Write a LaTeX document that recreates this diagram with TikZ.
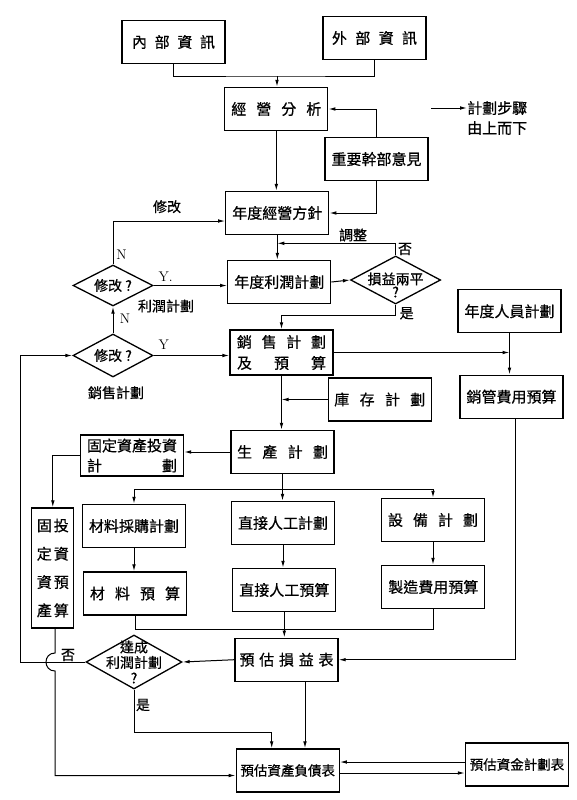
\documentclass[tikz,border=0pt]{standalone}
\usepackage{fontspec}
\newfontfamily\cjk[FakeBold=0.6]{Noto Sans CJK TC}
\usetikzlibrary{shapes.geometric,arrows.meta,calc}
\newcommand{\jus}[2][88pt]{\makebox[#1][s]{#2}}
\begin{document}
\begin{tikzpicture}[x=1pt,y=-1pt,
  box/.style={draw, line width=1.3pt, minimum width=103pt, minimum height=43pt, inner sep=2pt, font=\cjk\fontsize{15}{20}\selectfont, align=center},
  dia/.style={draw, line width=1.3pt, diamond, inner sep=0pt},
  conn/.style={line width=1pt, -{Latex[length=7pt,width=3.6pt]}},
  line/.style={line width=1pt},
  lbl/.style={font=\cjk\fontsize{14}{16}\selectfont, inner sep=1pt},
  lat/.style={font=\fontsize{14}{16}\selectfont, inner sep=1pt}]
\useasboundingbox[fill=white] (0,0) rectangle (577,800);

% ---------- nodes ----------
\node[box] (in) at (173.5,42) {\jus[83pt]{內\hfill{}部\hfill{}資\hfill{}訊}};
\node[box] (ex) at (374.5,38) {\jus[85pt]{外\hfill{}部\hfill{}資\hfill{}訊}};
\node[box] (an) at (276.3,109) {\jus[90pt]{經\hfill{}營\hfill{}分\hfill{}析}};
\node[box] (op) at (376.5,159) {重要幹部意見};
\node[box] (pol) at (277.3,213) {年度經營方針};
\node[box] (pp) at (279.3,282) {年度利潤計劃};
\node[dia, minimum width=90pt, minimum height=48pt,
  label={[lbl, align=center, yshift=-5pt, font=\cjk\fontsize{14}{13}\selectfont]center:{損益兩平\\?}}] (be) at (395.6,280) {};
\node[box] (hr) at (509.5,311.3) {年度人員計劃};
\node[box, minimum height=45pt, font=\cjk\fontsize{15}{21}\selectfont] (sales) at (281.5,352.5)
  {\jus[89pt]{銷\hfill{}售\hfill{}計\hfill{}劃}\\\jus[89pt]{及\hfill{}預\hfill{}算}};
\node[dia, minimum width=80pt, minimum height=41pt, label={[lbl]center:{修改 ?}}] (d1) at (113,285.5) {};
\node[dia, minimum width=80pt, minimum height=43pt, label={[lbl]center:{修改 ?}}] (d2) at (113,355.5) {};
\node[box] (inv) at (379.8,399.5) {\jus[91pt]{庫\hfill{}存\hfill{}計\hfill{}劃}};
\node[box] (sga) at (511.5,396.7) {銷管費用預算};
\node[box] (prod) at (282.5,452) {\jus[91pt]{生\hfill{}產\hfill{}計\hfill{}劃}};
\node[box, minimum height=41pt] (fa) at (132,455.5) {固定資產投資\\\jus[90pt]{計\hfill{}劃}};
\node[box, minimum width=42pt, minimum height=120pt, font=\cjk\fontsize{15}{28.3}\selectfont] (fab) at (52.8,568)
  {固\hspace{2pt}投\\定\hspace{2pt}資\\資\hspace{2pt}預\\產\hspace{2pt}算};
\node[box] (mpp) at (134,526) {材料採購計劃};
\node[box] (dlp) at (283,523) {直接人工計劃};
\node[box] (eqp) at (433,520) {\jus[90pt]{設\hfill{}備\hfill{}計\hfill{}劃}};
\node[box] (mb) at (135,593.5) {\jus[90pt]{材\hfill{}料\hfill{}預\hfill{}算}};
\node[box] (dlb) at (284.3,590) {直接人工預算};
\node[box] (ohb) at (433.3,587) {製造費用預算};
\node[box] (pl) at (286.5,659.7) {\jus[94pt]{預\hfill{}估\hfill{}損\hfill{}益\hfill{}表}};
\node[dia, minimum width=96pt, minimum height=54pt,
  label={[lbl, align=center, font=\cjk\fontsize{14}{15.5}\selectfont]center:{達成\\利潤計劃\\?}}] (ach) at (134,662) {};
\node[box, font=\cjk\fontsize{13.5}{16}\selectfont] (bs) at (287.7,770.5) {預估資產負債表};
\node[box, font=\cjk\fontsize{13.5}{16}\selectfont] (cash) at (517,764.5) {預估資金計劃表};

% legend
\node[anchor=west, align=left, inner sep=0pt, font=\cjk\fontsize{15}{20}\selectfont] (lgt) at (467,118) {計劃步驟\\由上而下};
\coordinate (lgs) at (431,108);
\draw[conn] (lgs) -- (lgs -| lgt.west);

% ---------- helper coordinates ----------
\coordinate (j1) at (277,76);
\coordinate (adj) at (277.3,243.3);
\coordinate (yes1) at (281.5,315);
\coordinate (brc) at (0,489);
\coordinate (mrg) at (0,629);
\coordinate (lft) at (20,662);
\coordinate (hopa) at (55,653);
\coordinate (hopb) at (55,671);
\coordinate (yes2) at (271.7,732);
\coordinate (u1) at (0,762);
\coordinate (u2) at (0,773);

% ---------- connectors ----------
\draw[line] (in.south) |- (j1) -| (ex.south);
\draw[conn] (j1) -- (j1 |- an.north);
\draw[conn] (op.north) |- (an.east);
\draw[conn] (an.south) -- (an.south |- pol.north);
\draw[conn] (op.south) |- (pol.east);
\draw[conn] (d1.north) |- ([yshift=-8pt]pol.west);
\draw[conn] (d1.east) -- (d1.east -| pp.west);
\draw[conn] (pol.south) -- (pol.south |- pp.north);
\draw[conn] (be.north) |- (adj);
\draw[conn] (pp.east) -- (be.west);
\draw[conn] (be.south) |- (yes1) -- (yes1 |- sales.north);
\draw[conn] (d2.north) -- (d1.south);
\draw[conn] (d2.east) -- (d2.east -| sales.west);
\draw[conn] (sales.east) -- (hr.south |- sales.east);
\draw[conn] (hr.south) -- (hr.south |- sga.north);
\draw[conn] (sales.south) -- (sales.south |- prod.north);
\draw[conn] (inv.west) -- (inv.west -| sales.south);
\draw[conn] (prod.west) -- (prod.west -| fa.east);
\draw[conn] (fa.west) -| (fab.north);
\draw[conn] (prod.south) -- (prod.south |- dlp.north);
\draw[line] (mpp.north |- brc) -- (eqp.north |- brc);
\draw[conn] (mpp.north |- brc) -- (mpp.north);
\draw[conn] (eqp.north |- brc) -- (eqp.north);
\draw[conn] (mpp.south) -- (mpp.south |- mb.north);
\draw[conn] (dlp.south) -- (dlp.south |- dlb.north);
\draw[conn] (eqp.south) -- (eqp.south |- ohb.north);
\draw[line] (mb.south) |- (ohb.south |- mrg) -- (ohb.south);
\draw[conn] (dlb.south) -- (dlb.south |- pl.north);
\draw[conn] ([xshift=4pt]sga.south) |- (pl.east);
\draw[conn] (pl.west) -- (ach.east);
\draw[conn] (ach.west) -- (lft) |- (d2.west);
\draw[conn] (hopa |- fab.south) -- (hopa) .. controls (43,653) and (43,671) .. (hopb) |- ([yshift=-5pt]bs.west);
\draw[conn] (ach.south) |- (yes2) -- (yes2 |- bs.north);
\draw[conn] ([xshift=18.5pt]pl.south) -- ([xshift=18.5pt]pl.south |- bs.north);
\draw[conn] (cash.west |- u1) -- (bs.east |- u1);
\draw[conn] (bs.east |- u2) -- (cash.west |- u2);

% ---------- labels ----------
\node[lbl] (t1) at (167,206.7) {修改};
\node[lat] (t2) at (121.5,255) {N};
\node[lat] (t3) at (165.6,276.7) {Y.};
\node[lbl] (t4) at (166,306) {利潤計劃};
\node[lbl] (t5) at (353,235) {調整};
\node[lbl] (t6) at (405,249) {否};
\node[lbl] (t7) at (406.7,313.3) {是};
\node[lat] (t8) at (125,318.3) {N};
\node[lat] (t9) at (163.8,345) {Y};
\node[lbl] (t10) at (116,392.7) {銷售計劃};
\node[lbl] (t11) at (68,655) {否};
\node[lbl] (t12) at (143,705) {是};
\end{tikzpicture}
\end{document}
